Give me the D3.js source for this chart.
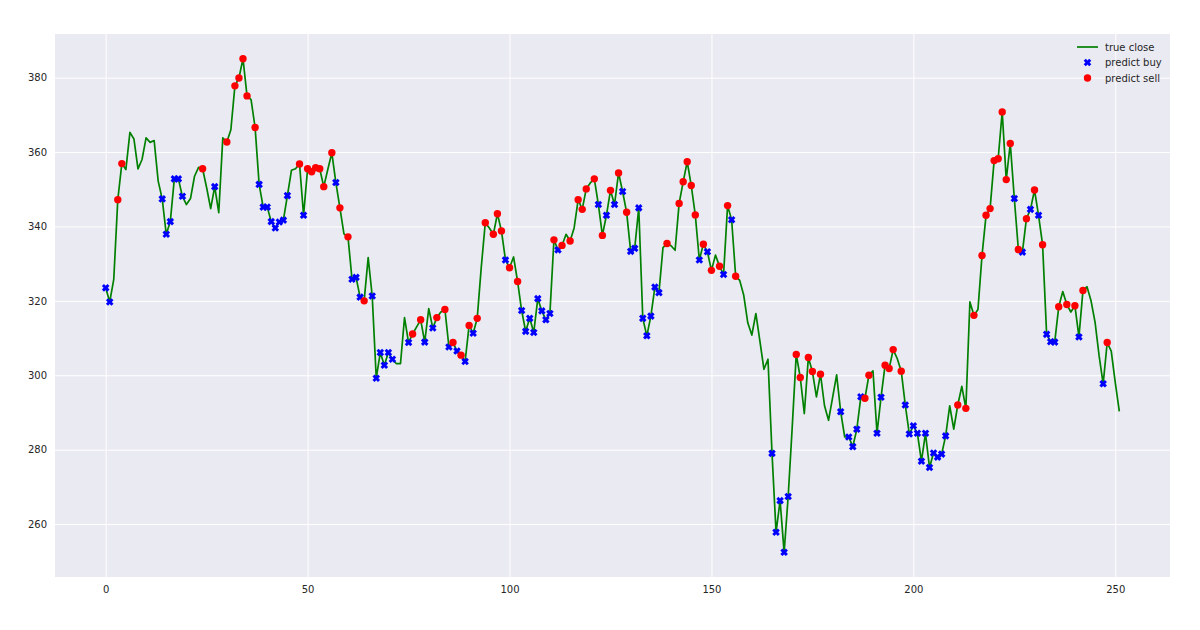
<!DOCTYPE html>
<html>
<head>
<meta charset="utf-8">
<script src="https://cdn.jsdelivr.net/npm/d3@7"></script>
<style>
  html, body { margin: 0; padding: 0; background: #ffffff; }
  svg { display: block; }
  text { font-family: "DejaVu Sans", sans-serif; }
</style>
</head>
<body>
<svg id="chart" width="1200" height="630"></svg>
<script>
// ---- data ----
const closeValues = [
  323.5, 319.7, 325.8, 347.2, 356.9, 355.3, 365.3, 363.5, 355.5, 358.0,
  363.8, 362.6, 363.1, 352.2, 347.4, 337.9, 341.3, 352.8, 352.8, 348.1,
  345.9, 347.5, 353.5, 355.9, 355.5, 350.4, 344.8, 350.7, 343.7, 363.8,
  362.7, 366.0, 377.8, 379.9, 385.1, 375.1, 374.1, 366.6, 351.3, 345.2,
  345.2, 341.3, 339.6, 341.2, 341.7, 348.3, 355.1, 355.5, 356.8, 343.0,
  355.5, 354.7, 355.8, 355.5, 350.7, 355.3, 359.8, 351.8, 345.0, 338.0,
  337.2, 325.8, 326.3, 321.0, 320.0, 331.6, 321.3, 299.2, 306.1, 302.7,
  306.1, 304.3, 303.1, 303.1, 315.5, 308.8, 311.1, 313.0, 314.9, 308.9,
  317.9, 312.7, 315.5, 317.0, 317.7, 307.6, 308.8, 306.5, 305.4, 303.7,
  313.4, 311.3, 315.3, 329.0, 341.0, 339.6, 337.9, 343.4, 338.8, 331.0,
  328.9, 331.8, 325.2, 317.4, 311.8, 315.3, 311.5, 320.6, 317.3, 314.9,
  316.6, 336.4, 333.7, 334.9, 337.9, 336.1, 339.6, 347.2, 344.6, 350.1,
  351.7, 352.8, 345.9, 337.6, 343.0, 349.7, 345.9, 354.4, 349.4, 343.8,
  333.3, 334.1, 345.0, 315.3, 310.6, 315.9, 323.7, 322.2, 334.3, 335.4,
  334.8, 333.6, 346.2, 352.0, 357.4, 351.0, 343.1, 331.0, 335.2, 333.2,
  328.2, 332.3, 329.3, 327.1, 345.6, 341.8, 326.6, 325.5, 321.5, 314.1,
  310.8, 316.6, 309.2, 301.6, 304.3, 279.0, 257.8, 266.3, 252.4, 267.4,
  286.0, 305.6, 299.4, 289.7, 304.8, 301.0, 294.2, 300.3, 291.8, 287.9,
  294.0, 300.1, 290.2, 283.4, 283.4, 280.8, 285.5, 294.2, 293.8, 300.0,
  301.2, 284.4, 294.1, 302.7, 301.8, 306.9, 304.5, 301.1, 292.0, 284.2,
  286.4, 284.4, 276.9, 284.4, 275.2, 279.1, 278.0, 278.8, 283.7, 291.8,
  285.5, 292.0, 297.0, 291.1, 319.7, 316.1, 317.7, 332.2, 343.0, 344.8,
  357.7, 358.2, 370.8, 352.6, 362.3, 347.5, 333.8, 333.1, 342.1, 344.6,
  349.8, 343.0, 335.1, 311.0, 309.0, 308.9, 318.4, 322.5, 319.0, 317.0,
  318.7, 310.3, 322.8, 323.8, 320.0, 314.2, 305.2, 297.7, 308.8, 306.5,
  298.0, 290.3
];
const buyIndices = [0, 1, 14, 15, 16, 17, 18, 19, 27, 38, 39, 40, 41, 42, 43, 44, 45, 49, 57,
  61, 62, 63, 66, 67, 68, 69, 70, 71, 75, 79, 81, 85, 87, 89, 91, 99, 103, 104, 105, 106,
  107, 108, 109, 110, 112, 122, 124, 126, 128, 130, 131, 132, 133, 134, 135, 136, 137, 147,
  149, 153, 155, 165, 166, 167, 168, 169, 182, 184, 185, 186, 187, 191, 192, 198, 199, 200,
  201, 202, 203, 204, 205, 206, 207, 208, 225, 227, 229, 231, 233, 234, 235, 241, 247];
const sellIndices = [3, 4, 24, 30, 32, 33, 34, 35, 37, 48, 50, 51, 52, 53, 54, 56, 58, 60, 64,
  76, 78, 82, 84, 86, 88, 90, 92, 94, 96, 97, 98, 100, 102, 111, 113, 115, 117, 118, 119,
  121, 123, 125, 127, 129, 139, 142, 143, 144, 145, 146, 148, 150, 152, 154, 156, 171, 172,
  174, 175, 177, 188, 189, 193, 194, 195, 197, 211, 213, 215, 217, 218, 219, 220, 221, 222,
  223, 224, 226, 228, 230, 232, 236, 238, 240, 242, 248];
const xTicks = [0, 50, 100, 150, 200, 250];
const yTicks = [260, 280, 300, 320, 340, 360, 380];
const legendLabels = ["true close", "predict buy", "predict sell"];

// ---- layout ----
const svg = d3.select("#chart");
const plot = { left: 55, top: 34, right: 1170, bottom: 577 };

const n = closeValues.length;
const xPad = (n - 1) * 0.05;
const x = d3.scaleLinear().domain([0 - xPad, (n - 1) + xPad]).range([plot.left, plot.right]);
const [yMin, yMax] = d3.extent(closeValues);
const yPad = (yMax - yMin) * 0.05;
const y = d3.scaleLinear().domain([yMin - yPad, yMax + yPad]).range([plot.bottom, plot.top]);

const C = { bg: "#EAEAF2", grid: "#ffffff", text: "#262626", line: "#008000", buy: "#0000ff", sell: "#ff0000" };

svg.append("rect")
  .attr("x", plot.left).attr("y", plot.top)
  .attr("width", plot.right - plot.left).attr("height", plot.bottom - plot.top)
  .attr("fill", C.bg);

// axes with gridlines
const xAxis = d3.axisBottom(x).tickValues(xTicks).tickSize(-(plot.bottom - plot.top)).tickPadding(9).tickFormat(d3.format("d"));
const yAxis = d3.axisLeft(y).tickValues(yTicks).tickSize(-(plot.right - plot.left)).tickPadding(8).tickFormat(d3.format("d"));

const gx = svg.append("g").attr("transform", `translate(0,${plot.bottom})`).call(xAxis);
const gy = svg.append("g").attr("transform", `translate(${plot.left},0)`).call(yAxis);
[gx, gy].forEach(g => {
  g.select(".domain").remove();
  g.selectAll(".tick line").attr("stroke", C.grid).attr("stroke-width", 1);
  g.selectAll(".tick text").attr("fill", C.text).attr("font-size", 10).attr("font-family", "DejaVu Sans, sans-serif");
});

// line
const line = d3.line().x((d, i) => x(i)).y(d => y(d));
svg.append("path")
  .datum(closeValues)
  .attr("d", line)
  .attr("fill", "none")
  .attr("stroke", C.line)
  .attr("stroke-width", 1.7)
  .attr("stroke-linejoin", "round");

// marker shapes
function xMarkPath(s) {
  // filled X (matplotlib 'X' style), half-size s
  const a = s * 0.55;
  const pts = [
    [0, -a], [s - a, -s], [s, -s + a], [a, 0], [s, s - a], [s - a, s],
    [0, a], [-s + a, s], [-s, s - a], [-a, 0], [-s, -s + a], [-s + a, -s]
  ];
  return "M" + pts.map(p => p.join(",")).join("L") + "Z";
}

svg.append("g").selectAll("path")
  .data(buyIndices)
  .join("path")
  .attr("d", xMarkPath(3.8))
  .attr("transform", i => `translate(${x(i)},${y(closeValues[i])})`)
  .attr("fill", C.buy);

svg.append("g").selectAll("circle")
  .data(sellIndices)
  .join("circle")
  .attr("cx", i => x(i))
  .attr("cy", i => y(closeValues[i]))
  .attr("r", 3.7)
  .attr("fill", C.sell);

// legend
const lg = svg.append("g").attr("transform", "translate(1077,47)");
const rowH = 15.5;
lg.append("line").attr("x1", 0).attr("x2", 21).attr("y1", 0).attr("y2", 0)
  .attr("stroke", C.line).attr("stroke-width", 1.7);
lg.append("path").attr("d", xMarkPath(3.8)).attr("transform", `translate(10.5,${rowH})`).attr("fill", C.buy);
lg.append("circle").attr("cx", 10.5).attr("cy", rowH * 2).attr("r", 3.7).attr("fill", C.sell);
lg.selectAll("text").data(legendLabels).join("text")
  .attr("x", 28).attr("y", (d, i) => i * rowH)
  .attr("dy", "0.35em")
  .attr("font-size", 10)
  .attr("fill", C.text)
  .text(d => d);
</script>
</body>
</html>
